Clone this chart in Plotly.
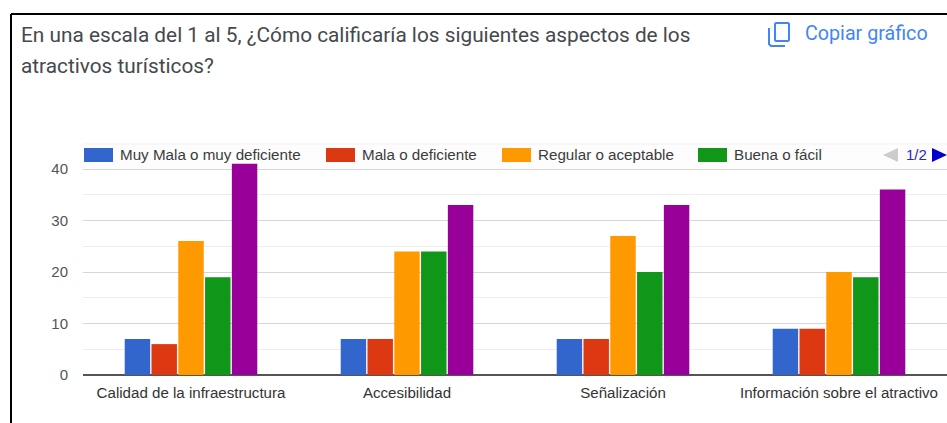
import plotly.graph_objects as go

WIDTH = 947
HEIGHT = 423
# the page photographs the figure 8px shorter than the requested height
DRAWN_HEIGHT = 415

categories = [
    "Calidad de la infraestructura",
    "Accesibilidad",
    "Señalización",
    "Información sobre el atractivo",
]
muy_mala = [7, 7, 7, 9]
mala = [6, 7, 7, 9]
regular = [26, 24, 27, 20]
buena = [19, 24, 20, 19]
muy_buena = [41, 33, 33, 36]

series_names = [
    "Muy Mala o muy deficiente",
    "Mala o deficiente",
    "Regular o aceptable",
    "Buena o fácil",
    "Muy buena o muy fácil",
]
series_values = [muy_mala, mala, regular, buena, muy_buena]
series_colors = ["#3366cc", "#dc3912", "#ff9900", "#109618", "#990099"]
legend_swatch_left = [84, 326, 502, 698]

TITLE_LINES = [
    "En una escala del 1 al 5, ¿Cómo calificaría los siguientes aspectos de los",
    "atractivos turísticos?",
]


def px_x(x):
    return x / WIDTH


def px_y(y):
    return 1 - y / DRAWN_HEIGHT


def pixel_path(points, close=False):
    parts = [f"{'M' if i == 0 else 'L'}{px_x(x):.5f},{px_y(y):.5f}" for i, (x, y) in enumerate(points)]
    return " ".join(parts) + (" Z" if close else "")


fig = go.Figure()
for name, values, color in zip(series_names, series_values, series_colors):
    fig.add_trace(go.Bar(x=categories, y=values, name=name, marker={"color": color, "line": {"width": 0}}))

shapes = [
    # outer frame of the screenshot
    {"type": "line", "xref": "paper", "yref": "paper", "x0": px_x(11), "x1": 1, "y0": px_y(14), "y1": px_y(14),
     "line": {"color": "#000000", "width": 2}},
    {"type": "line", "xref": "paper", "yref": "paper", "x0": px_x(11), "x1": px_x(11), "y0": px_y(14), "y1": px_y(423),
     "line": {"color": "#000000", "width": 2}},
    # legend strip
    {"type": "rect", "xref": "paper", "yref": "paper", "x0": px_x(83), "x1": 1, "y0": px_y(168), "y1": px_y(144),
     "fillcolor": "#fdfdfd", "line": {"width": 0}, "layer": "below"},
    {"type": "line", "xref": "paper", "yref": "paper", "x0": px_x(83), "x1": 1, "y0": px_y(144), "y1": px_y(144),
     "line": {"color": "#f1f1f1", "width": 1}, "layer": "below"},
    # copy icon
    {"type": "path", "xref": "paper", "yref": "paper",
     "path": pixel_path([(776, 23), (788, 23), (789, 24), (789, 40), (788, 41), (776, 41), (775, 40), (775, 24)], True),
     "line": {"color": "#4285f4", "width": 2}},
    {"type": "path", "xref": "paper", "yref": "paper",
     "path": pixel_path([(769, 28), (769, 44), (771, 46), (785, 46)]),
     "line": {"color": "#4285f4", "width": 2}},
    # legend pager arrows
    {"type": "path", "xref": "paper", "yref": "paper", "path": pixel_path([(883, 155), (898, 148), (898, 162)], True),
     "fillcolor": "#cccccc", "line": {"width": 0}},
    {"type": "path", "xref": "paper", "yref": "paper", "path": pixel_path([(932, 148), (947, 155), (932, 162)], True),
     "fillcolor": "#0000cc", "line": {"width": 0}},
]

annotations = [
    {"x": px_x(19.5), "y": px_y(34.5), "text": TITLE_LINES[0], "xanchor": "left", "yanchor": "middle",
     "font": {"family": "Roboto", "size": 20.8, "color": "#45494d"}},
    {"x": px_x(19.5), "y": px_y(65.5), "text": TITLE_LINES[1], "xanchor": "left", "yanchor": "middle",
     "font": {"family": "Roboto", "size": 20.8, "color": "#45494d"}},
    {"x": px_x(803.5), "y": px_y(33), "text": "Copiar gráfico", "xanchor": "left", "yanchor": "middle",
     "font": {"family": "Roboto", "size": 19.7, "color": "#4285f4"}},
    {"x": px_x(904.5), "y": px_y(154.5), "text": "1/2", "xanchor": "left", "yanchor": "middle",
     "font": {"family": "Liberation Sans", "size": 15, "color": "#2a2ab8"}},
]
for name, color, left in zip(series_names, series_colors, legend_swatch_left):
    shapes.append({"type": "rect", "xref": "paper", "yref": "paper", "x0": px_x(left), "x1": px_x(left + 29),
                   "y0": px_y(162), "y1": px_y(148), "fillcolor": color, "line": {"width": 0}})
    annotations.append({"x": px_x(left + 35), "y": px_y(154.5), "text": name, "xanchor": "left", "yanchor": "middle",
                        "font": {"family": "Liberation Sans", "size": 15.2, "color": "#3c3c3c"}})
for note in annotations:
    note.update({"xref": "paper", "yref": "paper", "showarrow": False, "borderpad": 0})

fig.update_layout(
    width=WIDTH,
    height=HEIGHT,
    autosize=False,
    margin={"l": 0, "r": 0, "t": 0, "b": 0},
    paper_bgcolor="#ffffff",
    plot_bgcolor="rgba(0,0,0,0)",
    barmode="group",
    bargap=0.38,
    bargroupgap=0.05,
    showlegend=False,
    font={"family": "Liberation Sans", "size": 15, "color": "#444444"},
    shapes=shapes,
    annotations=annotations,
)
fig.update_xaxes(
    domain=[px_x(83), 1],
    range=[-0.5, 3.5],
    showgrid=False,
    showline=False,
    zeroline=False,
    ticks="",
    ticklabelstandoff=7,
    tickfont={"family": "Liberation Sans", "size": 15.1, "color": "#333333"},
)
fig.update_yaxes(
    domain=[px_y(375), px_y(375 - 43 * 5.15)],
    range=[0, 43],
    tick0=0,
    dtick=10,
    ticks="",
    showgrid=True,
    gridcolor="#d6d6d6",
    gridwidth=1,
    zeroline=True,
    zerolinecolor="#555555",
    zerolinewidth=2,
    minor={"dtick": 5, "showgrid": True, "gridcolor": "#eeeeee", "gridwidth": 1},
    ticklabelstandoff=14,
    tickfont={"family": "Liberation Sans", "size": 15, "color": "#555555"},
)

fig.write_html(
    "out.html",
    config={"displayModeBar": False},
    post_script="document.body.style.margin='0';document.body.style.overflow='hidden';",
)
